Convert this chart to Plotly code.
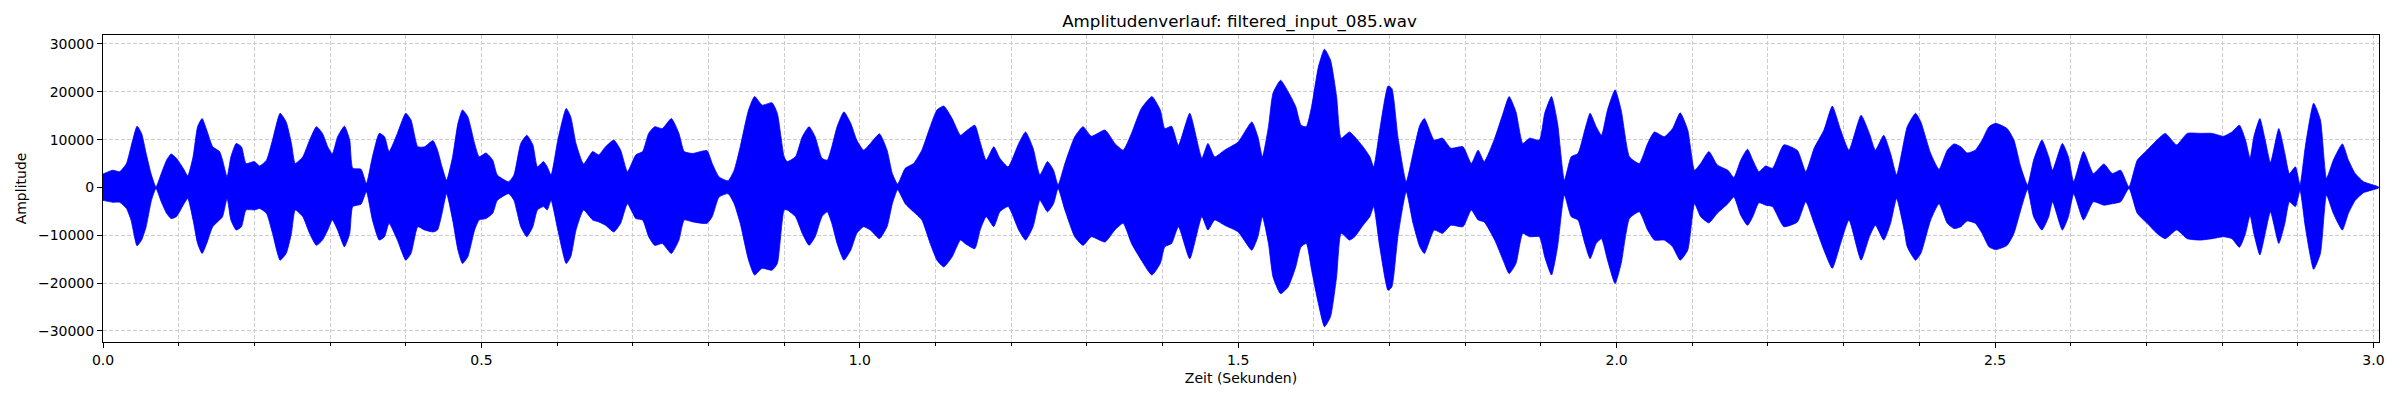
import plotly.graph_objects as go

# Envelope of the waveform (time in s, amplitude)
time_s = [
    0.000, 0.013, 0.022, 0.031, 0.037, 0.045, 0.051, 0.057, 0.064, 0.070,
    0.077, 0.084, 0.090, 0.097, 0.106, 0.112, 0.119, 0.125, 0.131, 0.137,
    0.145, 0.154, 0.158, 0.164, 0.169, 0.176, 0.183, 0.189, 0.200, 0.207,
    0.216, 0.224, 0.234, 0.242, 0.249, 0.254, 0.264, 0.273, 0.282, 0.290,
    0.297, 0.303, 0.310, 0.319, 0.326, 0.330, 0.341, 0.348, 0.356, 0.365,
    0.372, 0.378, 0.389, 0.400, 0.407, 0.416, 0.425, 0.436, 0.442, 0.448,
    0.454, 0.462, 0.469, 0.475, 0.482, 0.491, 0.497, 0.506, 0.515, 0.521,
    0.536, 0.543, 0.552, 0.560, 0.568, 0.574, 0.582, 0.587, 0.592, 0.601,
    0.612, 0.618, 0.625, 0.635, 0.647, 0.655, 0.664, 0.675, 0.684, 0.693,
    0.704, 0.713, 0.721, 0.729, 0.739, 0.751, 0.761, 0.768, 0.779, 0.798,
    0.805, 0.814, 0.826, 0.834, 0.842, 0.853, 0.861, 0.871, 0.884, 0.891,
    0.900, 0.904, 0.915, 0.924, 0.933, 0.941, 0.950, 0.957, 0.963, 0.970,
    0.979, 0.988, 0.996, 1.005, 1.014, 1.026, 1.036, 1.043, 1.050, 1.060,
    1.071, 1.082, 1.093, 1.102, 1.111, 1.122, 1.133, 1.139, 1.152, 1.159,
    1.167, 1.177, 1.185, 1.196, 1.210, 1.219, 1.229, 1.238, 1.248, 1.256,
    1.262, 1.271, 1.284, 1.295, 1.306, 1.324, 1.337, 1.348, 1.359, 1.372,
    1.386, 1.397, 1.403, 1.412, 1.421, 1.436, 1.452, 1.460, 1.469, 1.482,
    1.500, 1.518, 1.526, 1.532, 1.540, 1.546, 1.556, 1.566, 1.576, 1.583,
    1.590, 1.597, 1.606, 1.614, 1.622, 1.630, 1.636, 1.647, 1.654, 1.665,
    1.674, 1.679, 1.687, 1.698, 1.703, 1.711, 1.722, 1.731, 1.740, 1.746,
    1.759, 1.770, 1.781, 1.797, 1.808, 1.817, 1.825, 1.839, 1.850, 1.858,
    1.867, 1.876, 1.885, 1.898, 1.905, 1.914, 1.922, 1.931, 1.940, 1.949,
    1.958, 1.965, 1.973, 1.980, 1.988, 1.998, 2.006, 2.017, 2.030, 2.041,
    2.050, 2.063, 2.074, 2.084, 2.094, 2.103, 2.111, 2.122, 2.133, 2.147,
    2.155, 2.164, 2.173, 2.180, 2.188, 2.197, 2.206, 2.221, 2.239, 2.250,
    2.261, 2.274, 2.285, 2.296, 2.307, 2.323, 2.334, 2.342, 2.353, 2.362,
    2.370, 2.380, 2.384, 2.395, 2.402, 2.415, 2.426, 2.437, 2.446, 2.455,
    2.463, 2.474, 2.483, 2.492, 2.501, 2.516, 2.525, 2.534, 2.543, 2.551,
    2.562, 2.571, 2.576, 2.589, 2.597, 2.604, 2.617, 2.630, 2.644, 2.655,
    2.666, 2.677, 2.688, 2.701, 2.714, 2.725, 2.740, 2.754, 2.771, 2.787,
    2.802, 2.813, 2.823, 2.831, 2.837, 2.842, 2.850, 2.857, 2.864, 2.875,
    2.883, 2.889, 2.897, 2.903, 2.910, 2.921, 2.930, 2.938, 2.947, 2.959,
    2.967, 2.976, 2.987, 3.007,
]

upper_amp = [
    2800, 3600, 3300, 5000, 8500, 12800, 11300, 7100, 2600, 100,
    2900, 5700, 7000, 6100, 4000, 2400, 6400, 12700, 14400, 12000,
    8500, 7500, 5700, 2200, 6400, 9200, 8500, 5000, 5400, 4500,
    5700, 9900, 15500, 13700, 9200, 5000, 6400, 9900, 12700, 11300,
    8500, 7000, 10600, 12800, 9900, 4000, 3800, 800, 6400, 11300,
    10600, 7500, 11300, 15500, 14100, 8500, 8500, 9800, 7800, 4300,
    1500, 6400, 13400, 16200, 14800, 9200, 6400, 7200, 5700, 2600,
    1200, 2600, 9200, 10900, 8900, 4300, 5400, 4300, 2600, 9900,
    16500, 14800, 9200, 4900, 7500, 6800, 8500, 9900, 7800, 3300,
    6800, 7500, 11300, 12700, 12300, 14400, 11300, 7500, 7100, 7700,
    5000, 2200, 1400, 3600, 8500, 16200, 19000, 17200, 17700, 15500,
    6400, 5400, 6400, 10600, 12700, 10600, 6100, 5700, 8500, 12700,
    15800, 13400, 9900, 7800, 9200, 11200, 7800, 2900, 700, 4000,
    5000, 7800, 12700, 16200, 17000, 14400, 10900, 11600, 13000, 9500,
    5700, 8500, 6100, 4300, 9200, 11600, 8200, 2600, 5400, 3600,
    500, 5000, 10600, 12700, 10700, 12000, 9200, 7800, 11300, 16500,
    19000, 16200, 12300, 12800, 8800, 15500, 6100, 9200, 6400, 7800,
    9500, 13700, 10600, 6400, 12700, 19700, 22400, 20000, 16900, 13000,
    12700, 16900, 25200, 28900, 26600, 19000, 10300, 11600, 10600, 8500,
    6400, 4300, 12000, 21200, 20700, 10600, 1200, 7100, 13000, 14400,
    9900, 10300, 8200, 8500, 5000, 7800, 5400, 10300, 15500, 19000,
    15800, 9200, 10300, 9900, 15500, 19000, 13400, 1500, 6400, 7100,
    12000, 15500, 12700, 10900, 16200, 20400, 16200, 6400, 5000, 9200,
    11600, 10600, 12300, 15600, 12000, 3600, 5000, 7500, 4700, 3600,
    2100, 5700, 8000, 5700, 3300, 4500, 4000, 8900, 7700, 3300,
    8200, 12000, 17000, 12000, 7800, 15100, 11300, 7800, 10900, 7100,
    2600, 9900, 12700, 15500, 13700, 7100, 3800, 7800, 9100, 8500,
    7200, 7800, 9900, 12700, 13400, 12300, 9900, 4300, 500, 5700,
    9900, 6400, 3600, 9200, 6400, 1200, 7500, 2900, 4900, 2900,
    3600, 100, 5700, 7800, 9900, 11300, 8900, 11300, 11300, 11300,
    10700, 11600, 13000, 9900, 6100, 10600, 14400, 9900, 5200, 12300,
    7100, 2900, 4300, 500, 8500, 17600, 14100, 1900, 5700, 9100,
    5700, 2900, 1200, 100,
]

lower_amp = [
    -2700, -3100, -3100, -4400, -6800, -12200, -11000, -8200, -2700, -200,
    -3000, -5400, -6500, -6100, -3700, -2300, -6800, -11700, -13800, -11700,
    -8200, -6800, -6100, -2300, -6800, -8900, -8200, -4700, -4700, -4400,
    -5400, -9600, -15200, -13800, -9600, -4700, -6100, -9600, -12100, -11000,
    -8900, -6800, -8900, -12400, -9600, -4000, -3500, -900, -6800, -11000,
    -10300, -7500, -11000, -15200, -13800, -8200, -8900, -9300, -8900, -5400,
    -1300, -6800, -13100, -15900, -14500, -8900, -6800, -6500, -5400, -2700,
    -1300, -2700, -8200, -10300, -8200, -4700, -4000, -4700, -2700, -8900,
    -15900, -14500, -8900, -4700, -6800, -7200, -7900, -9300, -7500, -3400,
    -6500, -6800, -10300, -12100, -11700, -13800, -11000, -6800, -7200, -7500,
    -6100, -2000, -1300, -3400, -7500, -15200, -18300, -16900, -17300, -15900,
    -4700, -4700, -6100, -9600, -12100, -10300, -6100, -5100, -7500, -11700,
    -15200, -13100, -9600, -8200, -8900, -10700, -8200, -3400, -500, -3400,
    -5100, -6800, -11700, -15200, -16600, -14500, -11000, -11700, -12800, -8900,
    -6100, -8200, -5100, -4000, -8900, -11000, -8200, -2700, -5100, -3400,
    -200, -4700, -10300, -12100, -10300, -11400, -8900, -7500, -11700, -15200,
    -18300, -15900, -12400, -11700, -8200, -14900, -6100, -8900, -6800, -7900,
    -9300, -13100, -10300, -6100, -11700, -18700, -22200, -20800, -16600, -12400,
    -11700, -17300, -24300, -29100, -27000, -18700, -9600, -11000, -10300, -7900,
    -6100, -4000, -12400, -21500, -20800, -10300, -900, -7500, -12400, -13800,
    -8900, -9600, -7900, -8200, -4700, -6800, -7200, -11000, -15200, -18000,
    -15900, -9600, -10300, -10300, -14500, -18300, -12400, -1600, -6100, -6800,
    -11700, -14900, -11700, -10700, -15200, -20100, -15900, -6500, -5100, -8900,
    -11000, -11000, -12400, -15200, -13100, -3400, -6100, -7400, -5400, -3400,
    -2000, -5800, -7900, -6100, -3200, -3700, -4000, -8200, -7200, -3000,
    -7500, -13100, -16900, -11700, -6800, -15200, -10300, -7900, -11000, -7500,
    -2300, -8900, -12400, -15200, -13800, -6800, -3400, -7500, -8600, -8200,
    -7000, -7500, -9600, -12400, -13000, -12100, -9600, -4700, -400, -6100,
    -8900, -6100, -3000, -8900, -6100, -1300, -6800, -3000, -3700, -3400,
    -3000, -200, -5400, -7500, -9600, -10700, -8900, -10700, -11000, -10700,
    -10300, -10700, -12500, -9600, -5800, -9600, -14100, -9600, -5100, -11700,
    -7500, -3000, -4000, -600, -8200, -17100, -13800, -1600, -5400, -8900,
    -5400, -2700, -1100, -100,
]

x_tick_vals = [0.0, 0.5, 1.0, 1.5, 2.0, 2.5, 3.0]
x_tick_text = ["0.0", "0.5", "1.0", "1.5", "2.0", "2.5", "3.0"]
y_tick_vals = [-30000, -20000, -10000, 0, 10000, 20000, 30000]
y_tick_text = ["\u221230000", "\u221220000", "\u221210000", "0", "10000", "20000", "30000"]

title_text = "Amplitudenverlauf: filtered_input_085.wav"
x_label = "Zeit (Sekunden)"
y_label = "Amplitude"

n = min(len(time_s), len(upper_amp), len(lower_amp))
t = time_s[:n]
up = upper_amp[:n]
lo = lower_amp[:n]

fig = go.Figure()
fig.add_trace(go.Scatter(
    x=t + t[::-1],
    y=up + lo[::-1],
    mode="lines",
    fill="toself",
    fillcolor="#0000ff",
    line=dict(color="#0000ff", width=0.8, shape="spline", smoothing=0.5),
    hoverinfo="skip",
    showlegend=False,
))

font_family = "DejaVu Sans"
grid_col = "#cccccc"
grid_dash = "4px,2px"

# page body has an 8px default margin; compensate so plot box lands on target
fig.update_layout(
    width=2392,
    height=392,
    margin=dict(l=92, r=21, t=27, b=58),
    paper_bgcolor="white",
    plot_bgcolor="white",
    font=dict(family=font_family, size=14, color="black"),
    title=dict(
        text=title_text,
        x=(1239.5 - 8) / 2392, xref="container", xanchor="center",
        y=1 - 13 / 392, yref="container", yanchor="middle",
        font=dict(family=font_family, size=16.7, color="black"),
    ),
    showlegend=False,
)

fig.update_xaxes(
    range=[0, 3.0074],
    tickvals=x_tick_vals,
    ticktext=x_tick_text,
    ticks="outside", ticklen=5, tickwidth=1, tickcolor="black",
    showline=True, linecolor="black", linewidth=1, mirror=True,
    showgrid=True, gridcolor=grid_col, griddash=grid_dash, gridwidth=1,
    zeroline=False,
    minor=dict(dtick=0.1, tick0=0, ticks="outside", ticklen=3, tickwidth=1,
               tickcolor="black", showgrid=True, gridcolor=grid_col,
               griddash=grid_dash, gridwidth=1),
    title=dict(text=x_label, font=dict(family=font_family, size=14, color="black"), standoff=6),
    tickfont=dict(family=font_family, size=14, color="black"),
)

fig.update_yaxes(
    range=[-32300, 31860],
    tickvals=y_tick_vals,
    ticktext=y_tick_text,
    ticks="outside", ticklen=5, tickwidth=1, tickcolor="black",
    showline=True, linecolor="black", linewidth=1, mirror=True,
    showgrid=True, gridcolor=grid_col, griddash=grid_dash, gridwidth=1,
    zeroline=False,
    title=dict(text=y_label, font=dict(family=font_family, size=14, color="black"), standoff=8),
    tickfont=dict(family=font_family, size=14, color="black"),
)

fig.write_html("out.html")
